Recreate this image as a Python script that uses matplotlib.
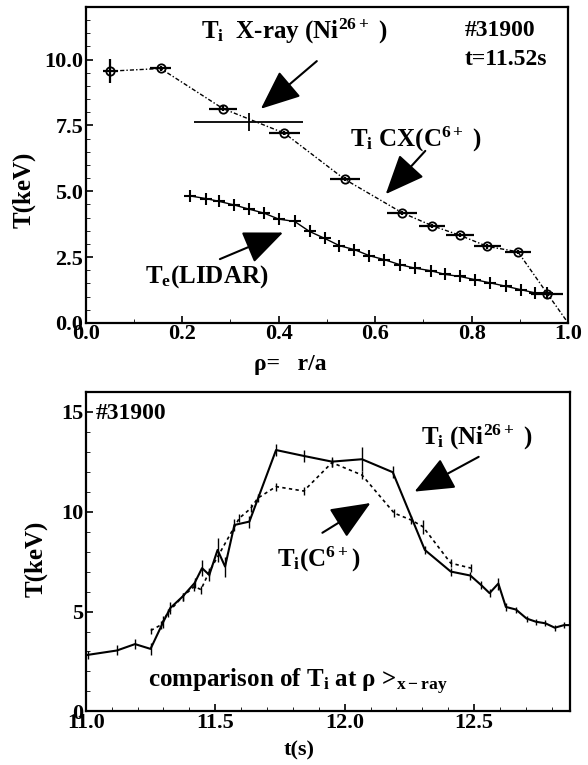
import matplotlib
matplotlib.use("Agg")
import matplotlib.pyplot as plt
from matplotlib.ticker import MultipleLocator

# ── Data ──────────────────────────────────────────────────────────────────────

# top panel: radial profiles at t = 11.52 s
cx_rho  = [0.051, 0.155, 0.284, 0.412, 0.537, 0.656, 0.718, 0.775, 0.833, 0.896, 0.957]
cx_T    = [9.56, 9.66, 8.14, 7.20, 5.45, 4.18, 3.69, 3.33, 2.90, 2.70, 1.11]
cx_xerr = [0.015, 0.022, 0.029, 0.032, 0.031, 0.031, 0.027, 0.029, 0.029, 0.027, 0.033]
cx_yerr = [0.45, 0.10, 0.08, 0.08, 0.08, 0.08, 0.08, 0.08, 0.08, 0.08, 0.08]

# fitted CX profile goes to zero at the edge
fit_rho = cx_rho + [1.0]
fit_T   = cx_T + [0.0]

xray_rho, xray_T = 0.338, 7.62
xray_xerr, xray_yerr = 0.113, 0.35

te_rho = [0.216, 0.249, 0.277, 0.307, 0.338, 0.369, 0.400, 0.433, 0.464, 0.495,
          0.526, 0.557, 0.588, 0.619, 0.651, 0.682, 0.715, 0.745, 0.776, 0.807,
          0.838, 0.871, 0.902, 0.931, 0.956]
te_T   = [4.82, 4.72, 4.61, 4.48, 4.32, 4.17, 3.94, 3.85, 3.47, 3.21,
          2.93, 2.78, 2.55, 2.40, 2.21, 2.08, 1.98, 1.84, 1.76, 1.64,
          1.52, 1.39, 1.26, 1.14, 1.14]

# bottom panel: time traces
ni_t = [11.007, 11.12, 11.19, 11.25, 11.30, 11.326, 11.374, 11.42, 11.449, 11.477,
        11.509, 11.538, 11.574, 11.632, 11.735, 11.844, 11.951, 12.067, 12.186, 12.31,
        12.41, 12.486, 12.527, 12.56, 12.594, 12.623, 12.662, 12.703, 12.739, 12.776,
        12.812, 12.848, 12.877]
ni_T = [2.83, 3.05, 3.37, 3.13, 4.50, 5.17, 5.75, 6.42, 7.17, 6.83,
        8.08, 7.25, 9.33, 9.50, 13.08, 12.78, 12.50, 12.62, 11.97, 8.08,
        7.00, 6.80, 6.33, 5.92, 6.40, 5.23, 5.10, 4.65, 4.49, 4.41,
        4.19, 4.32, 4.32]
ni_err = [0.2, 0.25, 0.25, 0.3, 0.3, 0.3, 0.2, 0.25, 0.4, 0.3,
          0.6, 0.5, 0.3, 0.3, 0.3, 0.3, 0.25, 0.6, 0.3, 0.2,
          0.2, 0.2, 0.2, 0.2, 0.3, 0.2, 0.15, 0.15, 0.15, 0.15,
          0.15, 0.15, 0.15]

c6_t = [11.251, 11.29, 11.316, 11.374, 11.419, 11.445, 11.477, 11.593, 11.638, 11.664,
        11.735, 11.842, 11.951, 12.067, 12.192, 12.257, 12.302, 12.41, 12.489]
c6_T = [4.05, 4.33, 4.92, 5.75, 6.25, 6.10, 7.00, 9.67, 10.17, 10.67,
        11.25, 11.03, 12.45, 11.83, 9.92, 9.58, 9.25, 7.42, 7.17]
c6_err = [0.15, 0.2, 0.2, 0.2, 0.2, 0.2, 0.2, 0.2, 0.2, 0.2,
          0.2, 0.2, 0.2, 0.2, 0.2, 0.2, 0.35, 0.2, 0.2]

# ── Style ─────────────────────────────────────────────────────────────────────

plt.rcParams.update({
    "font.family": "Liberation Serif",
    "font.weight": "bold",
    "font.size": 16,
    "mathtext.fontset": "custom",
    "mathtext.rm": "Liberation Serif:bold",
    "mathtext.it": "Liberation Serif:bold",
    "mathtext.bf": "Liberation Serif:bold",
    "axes.linewidth": 1.6,
    "xtick.direction": "in",
    "ytick.direction": "in",
    "xtick.major.size": 5,
    "ytick.major.size": 5,
    "xtick.minor.size": 3,
    "ytick.minor.size": 3,
    "xtick.major.width": 1.2,
    "ytick.major.width": 1.2,
    "xtick.major.pad": 1,
    "ytick.major.pad": 2,
    "xtick.labelsize": 16,
    "ytick.labelsize": 16,
})

ANN = 18   # annotation font size
LAB = 17   # axis label font size

ARROW = dict(arrowstyle="-|>,head_length=1.3,head_width=0.55",
             mutation_scale=19, lw=1.5, color="k", shrinkA=0, shrinkB=0)


def arrow(ax, tail, tip):
    ax.annotate("", xy=tip, xytext=tail, arrowprops=ARROW)


fig = plt.figure(figsize=(5.88, 7.65), dpi=100)
ax1 = fig.add_axes([0.146, 0.578, 0.820, 0.413])
ax2 = fig.add_axes([0.146, 0.070, 0.823, 0.418])

# ── Top: profiles ─────────────────────────────────────────────────────────────

ax1.plot(fit_rho, fit_T, color="k", lw=1.0, ls=(0, (3, 1.5, 1, 1.5)))
ax1.errorbar(cx_rho, cx_T, xerr=cx_xerr, yerr=cx_yerr, fmt="o", ms=6,
             mfc="none", mec="k", mew=1.3, ecolor="k", elinewidth=1.6, capsize=0)
ax1.errorbar([xray_rho], [xray_T], xerr=[xray_xerr], yerr=[xray_yerr], fmt="none",
             ecolor="k", elinewidth=1.3, capsize=0)
ax1.plot(te_rho, te_T, color="k", lw=1.0, marker="+", ms=9, mew=1.5)

ax1.set_xlim(0, 1.0)
ax1.set_ylim(0, 12.0)
ax1.xaxis.set_major_locator(MultipleLocator(0.2))
ax1.xaxis.set_minor_locator(MultipleLocator(0.1))
ax1.yaxis.set_major_locator(MultipleLocator(2.5))
ax1.yaxis.set_minor_locator(MultipleLocator(0.5))
ax1.xaxis.set_major_formatter(lambda v, p: f"{v:.1f}")
ax1.yaxis.set_major_formatter(lambda v, p: f"{v:.1f}")

ax1.set_ylabel("T(keV)", fontsize=LAB + 1, fontweight="bold")
ax1.yaxis.set_label_coords(-0.105, 0.42)
ax1.set_xlabel("ρ=   r/a", fontsize=LAB, fontweight="bold")
ax1.xaxis.set_label_coords(0.424, -0.1)

ax1.text(0.433, 11.05, "T$_\\mathregular{i}$  X-ray (Ni$^{\\mathregular{26+}}$ )",
         ha="center", va="center", fontsize=ANN)
arrow(ax1, (0.479, 9.94), (0.363, 8.13))
ax1.text(0.685, 6.97, "T$_\\mathregular{i}$ CX(C$^{\\mathregular{6+}}$ )",
         ha="center", va="center", fontsize=ANN)
arrow(ax1, (0.704, 6.53), (0.622, 4.89))
ax1.text(0.25, 1.75, "T$_\\mathregular{e}$(LIDAR)", ha="center", va="center", fontsize=ANN)
arrow(ax1, (0.278, 2.42), (0.409, 3.43))
ax1.text(0.785, 11.1, "#31900", ha="left", va="center", fontsize=ANN - 1)
ax1.text(0.785, 10.0, "t=11.52s", ha="left", va="center", fontsize=ANN - 1)

# ── Bottom: time traces ───────────────────────────────────────────────────────

ax2.errorbar(ni_t, ni_T, yerr=ni_err, color="k", lw=1.5, ecolor="k",
             elinewidth=1.0, capsize=0)
ax2.errorbar(c6_t, c6_T, yerr=c6_err, color="k", lw=1.2, ls=(0, (2, 2)),
             ecolor="k", elinewidth=1.0, capsize=0)

ax2.set_xlim(11.0, 12.87)
ax2.set_ylim(0, 16)
ax2.xaxis.set_major_locator(MultipleLocator(0.5))
ax2.xaxis.set_minor_locator(MultipleLocator(0.1))
ax2.yaxis.set_major_locator(MultipleLocator(5))
ax2.yaxis.set_minor_locator(MultipleLocator(1))
ax2.xaxis.set_major_formatter(lambda v, p: f"{v:.1f}")
ax2.yaxis.set_major_formatter(lambda v, p: f"{v:.0f}")

ax2.set_ylabel("T(keV)", fontsize=LAB + 1, fontweight="bold")
ax2.yaxis.set_label_coords(-0.08, 0.478)
ax2.set_xlabel("t(s)", fontsize=LAB - 1, fontweight="bold")
ax2.xaxis.set_label_coords(0.44, -0.09)

ax2.text(11.04, 14.9, "#31900", ha="left", va="center", fontsize=ANN - 1)
ax2.text(12.51, 13.7, "T$_\\mathregular{i}$ (Ni$^{\\mathregular{26+}}$ )",
         ha="center", va="center", fontsize=ANN)
arrow(ax2, (12.518, 12.74), (12.27, 11.0))
ax2.text(11.90, 7.6, "T$_\\mathregular{i}$(C$^{\\mathregular{6+}}$)",
         ha="center", va="center", fontsize=ANN)
arrow(ax2, (11.914, 8.94), (12.10, 10.43))
ax2.text(11.82, 1.5, "comparison of T$_\\mathregular{i}$ at ρ >$_\\mathregular{x-ray}$",
         ha="center", va="center", fontsize=ANN)

fig.savefig("out.png", dpi=100)
